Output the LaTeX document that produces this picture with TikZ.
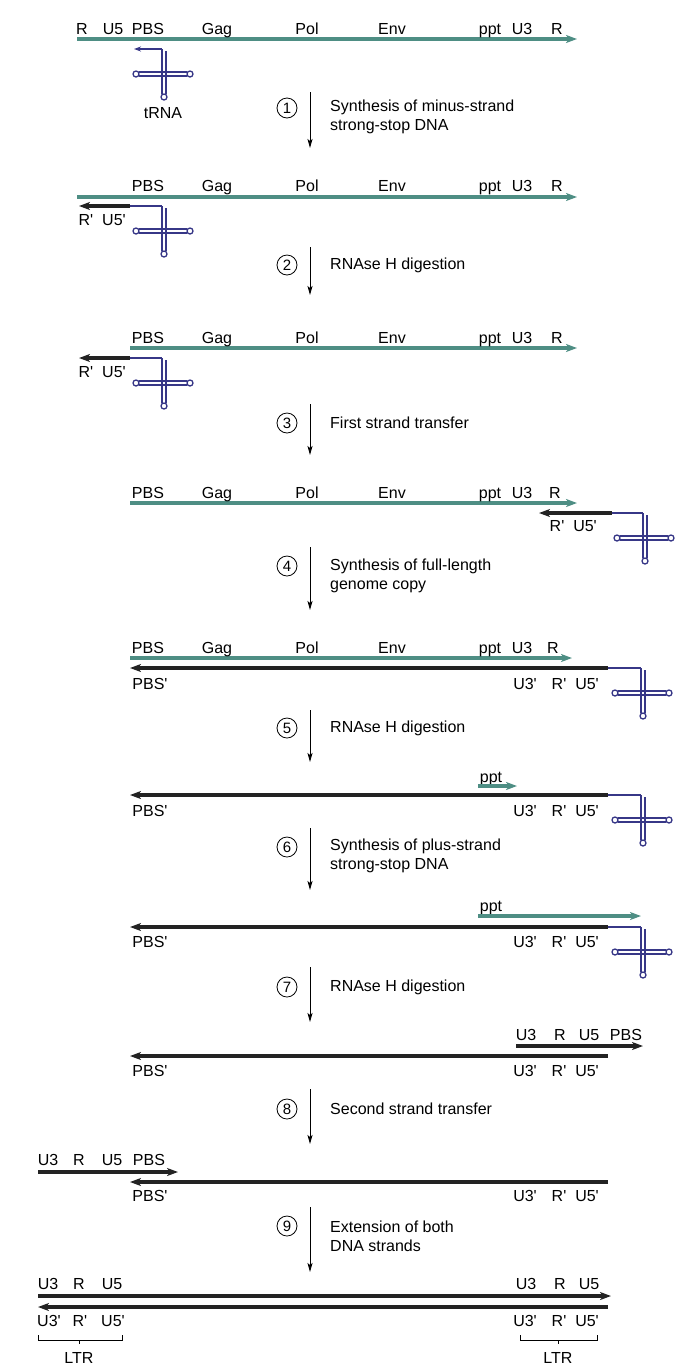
\documentclass[tikz,border=0pt]{standalone}
\usepackage{fontspec}
\setmainfont{Liberation Sans}
\usetikzlibrary{arrows.meta}
\definecolor{rnacol}{RGB}{78,142,132}
\definecolor{trnacol}{RGB}{55,55,135}
\definecolor{dnacol}{RGB}{35,35,35}
\newcommand\prm{\textquotesingle}
\tikzset{
  rna/.style={draw=rnacol,line width=3.2pt},
  dna/.style={draw=dnacol,line width=3.8pt},
  tip/.style={-{Stealth[length=11pt,width=8pt,inset=3pt]}},
  trnaline/.style={draw=trnacol,line width=1.3pt},
  lab/.style={font=\fontsize{16}{19}\selectfont,anchor=base,inner sep=0pt},
  stepnum/.style={circle,draw,line width=0.8pt,minimum size=20pt,inner sep=0pt,font=\fontsize{15}{18}\selectfont},
  steptext/.style={anchor=west,align=left,inner sep=0pt,font=\fontsize{16}{19}\selectfont},
  steparrow/.style={-{Stealth[length=9pt,width=5pt,inset=2pt]},line width=0.9pt},
  trna/.pic={
    \draw[trnaline] (0,0) -- (0,45);
    \draw[trnaline] (4,2) -- (4,45);
    \draw[trnaline] (-23,23) -- (25,23);
    \draw[trnaline] (-23,27) -- (25,27);
    \draw[trnaline,fill=white] (-26,25) circle (3pt);
    \draw[trnaline,fill=white] (28,25) circle (3pt);
    \draw[trnaline,fill=white] (2,48) circle (3pt);
  }
}
\begin{document}
\begin{tikzpicture}[x=1pt,y=-1pt]
  \useasboundingbox (0,0) rectangle (691,1369);
  \draw[rna,tip] (77,39) -- (577,39);
  \node[lab] (r1R) at (82,34) {R};
  \node[lab] (r1U5) at (113,34) {U5};
  \node[lab] (r1PBS) at (148,34) {PBS};
  \node[lab] (r1Gag) at (217,34) {Gag};
  \node[lab] (r1Pol) at (307,34) {Pol};
  \node[lab] (r1Env) at (392,34) {Env};
  \node[lab] (r1ppt) at (490,34) {ppt};
  \node[lab] (r1U3) at (522,34) {U3};
  \node[lab] (r1Rb) at (557,34) {R};
  \pic at (162,49) {trna};
  \draw[trnaline,-{Stealth[length=7pt,width=5pt]}] (162,49) -- (134,49);
  \node[lab] (trnalab) at (163,118) {tRNA};

  \node[stepnum] (s1) at (287,108) {1};
  \draw[steparrow] (310,92) -- (310,148);
  \node[steptext] (t1) at (330,117) {Synthesis of minus-strand\\strong-stop DNA};

  \draw[rna,tip] (77,197) -- (577,197);
  \node[lab] (r2PBS) at (148,191) {PBS};
  \node[lab] (r2Gag) at (217,191) {Gag};
  \node[lab] (r2Pol) at (307,191) {Pol};
  \node[lab] (r2Env) at (392,191) {Env};
  \node[lab] (r2ppt) at (490,191) {ppt};
  \node[lab] (r2U3) at (522,191) {U3};
  \node[lab] (r2R) at (557,191) {R};
  \draw[trnaline] (162,206) -- (130,206);
  \draw[dna,tip] (130,206) -- (79,206);
  \pic at (162,206) {trna};
  \node[lab] (r2Rp) at (86,225) {R\prm};
  \node[lab] (r2U5p) at (114,225) {U5\prm};

  \node[stepnum] (s2) at (287,265) {2};
  \draw[steparrow] (310,247) -- (310,295);
  \node[steptext] (t2) at (330,265) {RNAse H digestion};

  \draw[rna,tip] (130,348) -- (577,348);
  \node[lab] (r3PBS) at (148,343) {PBS};
  \node[lab] (r3Gag) at (217,343) {Gag};
  \node[lab] (r3Pol) at (307,343) {Pol};
  \node[lab] (r3Env) at (392,343) {Env};
  \node[lab] (r3ppt) at (490,343) {ppt};
  \node[lab] (r3U3) at (522,343) {U3};
  \node[lab] (r3R) at (557,343) {R};
  \draw[trnaline] (162,358) -- (130,358);
  \draw[dna,tip] (130,358) -- (79,358);
  \pic at (162,358) {trna};
  \node[lab] (r3Rp) at (86,377) {R\prm};
  \node[lab] (r3U5p) at (114,377) {U5\prm};

  \node[stepnum] (s3) at (287,423) {3};
  \draw[steparrow] (310,404) -- (310,455);
  \node[steptext] (t3) at (330,423) {First strand transfer};

  \draw[rna,tip] (130,503) -- (577,503);
  \node[lab] (r4PBS) at (148,498) {PBS};
  \node[lab] (r4Gag) at (217,498) {Gag};
  \node[lab] (r4Pol) at (307,498) {Pol};
  \node[lab] (r4Env) at (392,498) {Env};
  \node[lab] (r4ppt) at (490,498) {ppt};
  \node[lab] (r4U3) at (522,498) {U3};
  \node[lab] (r4R) at (555,498) {R};
  \draw[trnaline] (643,513) -- (612,513);
  \draw[dna,tip] (612,513) -- (539,513);
  \pic at (643,513) {trna};
  \node[lab] (r4Rp) at (557,531) {R\prm};
  \node[lab] (r4U5p) at (585,531) {U5\prm};

  \node[stepnum] (s4) at (287,566) {4};
  \draw[steparrow] (310,547) -- (310,610);
  \node[steptext] (t4) at (330,576) {Synthesis of full-length\\genome copy};

  \draw[rna,tip] (130,658) -- (572,658);
  \node[lab] (r5PBS) at (148,653) {PBS};
  \node[lab] (r5Gag) at (217,653) {Gag};
  \node[lab] (r5Pol) at (307,653) {Pol};
  \node[lab] (r5Env) at (392,653) {Env};
  \node[lab] (r5ppt) at (490,653) {ppt};
  \node[lab] (r5U3) at (522,653) {U3};
  \node[lab] (r5R) at (553,653) {R};
  \draw[trnaline] (641,668) -- (608,668);
  \draw[dna,tip] (608,668) -- (130,668);
  \pic at (641,668) {trna};
  \node[lab] (r5PBSp) at (150,689) {PBS\prm};
  \node[lab] (r5U3p) at (525,689) {U3\prm};
  \node[lab] (r5Rp) at (559,689) {R\prm};
  \node[lab] (r5U5p) at (587,689) {U5\prm};

  \node[stepnum] (s5) at (287,728) {5};
  \draw[steparrow] (310,710) -- (310,762);
  \node[steptext] (t5) at (330,728) {RNAse H digestion};

  \node[lab] (r6ppt) at (491,782) {ppt};
  \draw[rna,tip] (478,786) -- (517,786);
  \draw[trnaline] (641,795) -- (608,795);
  \draw[dna,tip] (608,795) -- (130,795);
  \pic at (641,795) {trna};
  \node[lab] (r6PBSp) at (150,816) {PBS\prm};
  \node[lab] (r6U3p) at (525,816) {U3\prm};
  \node[lab] (r6Rp) at (559,816) {R\prm};
  \node[lab] (r6U5p) at (587,816) {U5\prm};

  \node[stepnum] (s6) at (287,847) {6};
  \draw[steparrow] (310,828) -- (310,890);
  \node[steptext] (t6) at (330,856) {Synthesis of plus-strand\\strong-stop DNA};

  \node[lab] (r7ppt) at (491,911) {ppt};
  \draw[rna,tip] (478,916) -- (641,916);
  \draw[trnaline] (641,927) -- (608,927);
  \draw[dna,tip] (608,927) -- (130,927);
  \pic at (641,927) {trna};
  \node[lab] (r7PBSp) at (150,947) {PBS\prm};
  \node[lab] (r7U3p) at (525,947) {U3\prm};
  \node[lab] (r7Rp) at (559,947) {R\prm};
  \node[lab] (r7U5p) at (587,947) {U5\prm};

  \node[stepnum] (s7) at (287,987) {7};
  \draw[steparrow] (310,967) -- (310,1022);
  \node[steptext] (t7) at (330,987) {RNAse H digestion};

  \node[lab] (r8U3) at (526,1040) {U3};
  \node[lab] (r8R) at (560,1040) {R};
  \node[lab] (r8U5) at (589,1040) {U5};
  \node[lab] (r8PBS) at (626,1040) {PBS};
  \draw[dna,tip] (516,1046) -- (643,1046);
  \draw[dna,tip] (608,1056) -- (130,1056);
  \node[lab] (r8PBSp) at (150,1076) {PBS\prm};
  \node[lab] (r8U3p) at (525,1076) {U3\prm};
  \node[lab] (r8Rp) at (559,1076) {R\prm};
  \node[lab] (r8U5p) at (587,1076) {U5\prm};

  \node[stepnum] (s8) at (287,1109) {8};
  \draw[steparrow] (310,1089) -- (310,1144);
  \node[steptext] (t8) at (330,1109) {Second strand transfer};

  \node[lab] (r9U3) at (48,1165) {U3};
  \node[lab] (r9R) at (79,1165) {R};
  \node[lab] (r9U5) at (112,1165) {U5};
  \node[lab] (r9PBS) at (149,1165) {PBS};
  \draw[dna,tip] (38,1172) -- (178,1172);
  \draw[dna,tip] (608,1182) -- (130,1182);
  \node[lab] (r9PBSp) at (150,1201) {PBS\prm};
  \node[lab] (r9U3p) at (525,1201) {U3\prm};
  \node[lab] (r9Rp) at (559,1201) {R\prm};
  \node[lab] (r9U5p) at (587,1201) {U5\prm};

  \node[stepnum] (s9) at (287,1226) {9};
  \draw[steparrow] (310,1207) -- (310,1272);
  \node[steptext] (t9) at (330,1236) {Extension of both\\DNA strands};

  \node[lab] (r10U3) at (48,1289) {U3};
  \node[lab] (r10R) at (79,1289) {R};
  \node[lab] (r10U5) at (112,1289) {U5};
  \node[lab] (r10U3b) at (526,1289) {U3};
  \node[lab] (r10Rb) at (560,1289) {R};
  \node[lab] (r10U5b) at (589,1289) {U5};
  \draw[dna,tip] (38,1296) -- (611,1296);
  \draw[dna,tip] (608,1307) -- (38,1307);
  \node[lab] (r10U3p) at (49,1326) {U3\prm};
  \node[lab] (r10Rp) at (80,1326) {R\prm};
  \node[lab] (r10U5p) at (113,1326) {U5\prm};
  \node[lab] (r10U3pb) at (525,1326) {U3\prm};
  \node[lab] (r10Rpb) at (559,1326) {R\prm};
  \node[lab] (r10U5pb) at (587,1326) {U5\prm};
  \draw[line width=0.8pt] (38,1335) -- (38,1340) -- (122,1340) -- (122,1335);
  \draw[line width=0.8pt] (79,1340) -- (79,1344);
  \draw[line width=0.8pt] (520,1335) -- (520,1340) -- (597,1340) -- (597,1335);
  \draw[line width=0.8pt] (558,1340) -- (558,1344);
  \node[lab] (ltrl) at (79,1363) {LTR};
  \node[lab] (ltrr) at (558,1363) {LTR};
\end{tikzpicture}
\end{document}
